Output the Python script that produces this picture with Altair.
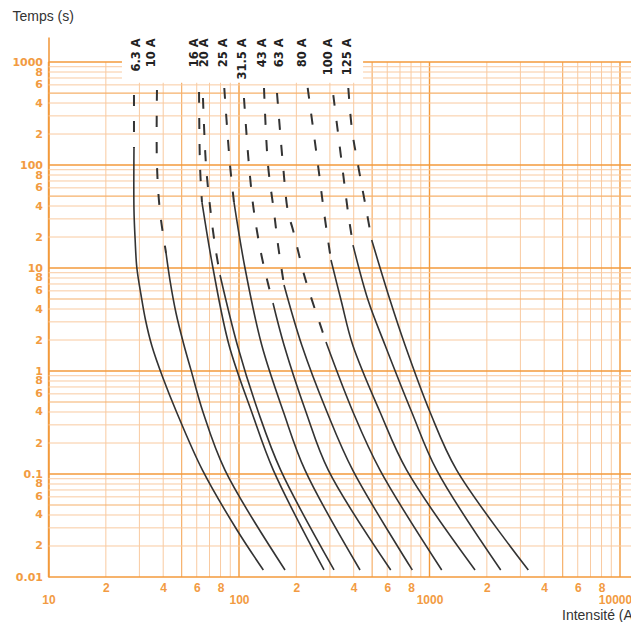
import altair as alt
import pandas as pd

# ---------------- data ----------------
FUSE_NAMES = ["6.3 A", "10 A", "16 A", "20 A", "25 A", "31.5 A",
              "43 A", "63 A", "80 A", "100 A", "125 A"]
LABEL_CURRENT = [29.1, 34.9, 58.8, 66.3, 83.4, 105, 133.6, 164.1, 216.8, 296.8, 373.4]
LABEL_TIME = 1700

F6_3_I = [28.1, 28.1, 28.1, 28.5, 29.1, 30.6, 32.3, 34.9, 39.9, 47.0, 64.3, 97.6, 134.2]
F6_3_T = [478, 146, 36.6, 18.7, 10, 5.47, 3.13, 1.75, 0.855, 0.40, 0.109, 0.0286, 0.0117]
F10_I = [37.1, 37.1, 38.5, 41.4, 43.4, 46.7, 51.4, 56.0, 64.7, 84.4, 174.4]
F10_T = [535, 100, 35.0, 14.0, 7.64, 3.66, 1.79, 1.02, 0.40, 0.109, 0.0117]
F16_I = [61.7, 62.4, 63.9, 73.0, 88.6, 116.6, 151.4, 279.4]
F16_T = [511, 100, 43.7, 10, 1.79, 0.40, 0.109, 0.0117]
F20_I = [64.7, 67.1, 71.0, 74.8, 79.5, 98.0, 126.3, 165.5, 315.3]
F20_T = [447, 100, 35, 16.7, 8.55, 1.79, 0.40, 0.109, 0.0117]
F25_I = [83.7, 89.7, 94.1, 107.5, 131.6, 171.2, 222.1, 431.8]
F25_T = [560, 100, 43.7, 10, 1.79, 0.40, 0.109, 0.0117]
F31_5_I = [106.2, 112.8, 119.9, 132.1, 150.8, 172.3, 224.7, 294.3, 625.7]
F31_5_T = [447, 100, 35, 12.5, 4.57, 1.79, 0.40, 0.109, 0.0117]
F43_I = [135.3, 142.0, 152.7, 160.3, 172.3, 213.4, 289.7, 395.3, 812.2]
F43_T = [560, 100, 35, 16.7, 6.84, 1.79, 0.40, 0.109, 0.0117]
F63_I = [158.3, 170.2, 180.8, 192.1, 222.1, 272.7, 286.2, 396.7, 549.8, 1159]
F63_T = [500, 100, 35, 23.4, 8.0, 2.50, 1.91, 0.40, 0.109, 0.0117]
F80_I = [229.4, 259.8, 279.4, 304.0, 343.1, 395.3, 549.8, 759, 1734]
F80_T = [560, 100, 35, 11.96, 4.89, 1.79, 0.40, 0.109, 0.0117]
F100_I = [312.6, 347.4, 373.4, 396.7, 475.6, 584.0, 806.3, 1091, 2365]
F100_T = [478, 100, 35, 16.7, 4.89, 1.79, 0.40, 0.109, 0.0117]
F125_I = [374.8, 392.0, 421.5, 468.1, 497.3, 620.5, 743.6, 1006, 1389, 3301]
F125_T = [560, 219, 100, 35, 18.7, 4.89, 1.79, 0.40, 0.109, 0.0117]

# index of the last point of the dashed (upper) part of each curve
DASHED_UNTIL = [1, 3, 2, 4, 2, 4, 4, 6, 3, 3, 4]

X_TICKS = [10, 20, 40, 60, 80, 100, 200, 400, 600, 800, 1000,
           2000, 4000, 6000, 8000, 10000]
Y_TICKS = [0.01, 0.02, 0.04, 0.06, 0.08, 0.1, 0.2, 0.4, 0.6, 0.8, 1, 2, 4, 6, 8,
           10, 20, 40, 60, 80, 100, 200, 400, 600, 800, 1000]
X_DECADES = [10, 100, 1000]
Y_DECADES = [0.01, 0.1, 1, 10, 100]
MANTISSAS = [1, 2, 3, 4, 5, 6, 7, 8, 9]

# ---------------- tables ----------------
CURVES = [(F6_3_I, F6_3_T), (F10_I, F10_T), (F16_I, F16_T), (F20_I, F20_T),
          (F25_I, F25_T), (F31_5_I, F31_5_T), (F43_I, F43_T), (F63_I, F63_T),
          (F80_I, F80_T), (F100_I, F100_T), (F125_I, F125_T)]
rows = []
for name, (ci, ct), k in zip(FUSE_NAMES, CURVES, DASHED_UNTIL):
    for j, (i, t) in enumerate(zip(ci, ct)):
        if j <= k:
            rows.append(dict(fuse=name, part="dash", n=j, I=i, t=t))
        if j >= k:
            rows.append(dict(fuse=name, part="solid", n=j, I=i, t=t))
curves = pd.DataFrame(rows)


def tier(m):
    return "major" if m == 1 else ("mid" if m == 5 else "minor")


vrows = [dict(I=m * d, lo=0.01, hi=1000, tier=tier(m)) for d in X_DECADES for m in MANTISSAS]
vrows.append(dict(I=10000, lo=0.01, hi=1000, tier="major"))
hrows = [dict(t=round(m * d, 4), x1=10, x2=11500, tier=tier(m)) for d in Y_DECADES for m in MANTISSAS]
hrows.append(dict(t=1000, x1=10, x2=11500, tier="major"))
vgrid = pd.DataFrame(vrows)
hgrid = pd.DataFrame(hrows)
labels = pd.DataFrame(dict(fuse=FUSE_NAMES, I=LABEL_CURRENT, t=[LABEL_TIME] * len(FUSE_NAMES)))
box = pd.DataFrame([dict(x1=24.3, x2=448, y1=630, y2=1750)])

# ---------------- styling ----------------
ORANGE = "#f29b42"
FONT = "DejaVu Sans"
xscale = alt.Scale(type="log", domain=[10, 10000], nice=False)
yscale = alt.Scale(type="log", domain=[0.01, 1750], nice=False)

is_dec = "abs(log(datum.value) / LN10 - round(log(datum.value) / LN10)) < 0.001"
digit = "format(datum.value / pow(10, floor(log(datum.value) / LN10 + 0.001)), '.0f')"

xaxis = alt.Axis(values=X_TICKS, format="~g", labelExpr=f"{is_dec} ? ['', datum.label] : {digit}",
                 grid=False, ticks=False, domain=False, labelOverlap=False, labelFlush=False,
                 labelBound=False, labelFont="Liberation Sans", labelFontWeight="bold",
                 labelFontSize=12, labelColor=ORANGE, labelPadding=5, labelLineHeight=12,
                 labelOffset={"condition": {"test": "datum.value > 9000", "value": -5}, "value": 0},
                 title="Intensité (A)", titleFont="Liberation Sans", titleFontSize=14,
                 titleFontWeight="normal", titleColor="#333333", titleAlign="left",
                 titleBaseline="middle", titleX=513, titleY=38, titleAngle=0)
yaxis = alt.Axis(values=Y_TICKS, format="~g", labelExpr=f"{is_dec} ? datum.label : {digit}",
                 grid=False, ticks=False, domain=True, domainColor=ORANGE, domainWidth=1.6,
                 labelOverlap=False, labelFlush=False, labelBound=False, labelFont=FONT,
                 labelFontWeight="bold", labelFontSize=11, labelColor=ORANGE, labelPadding=6,
                 title="Temps (s)", titleFont="Liberation Sans", titleFontSize=14,
                 titleFontWeight="normal", titleColor="#333333", titleAlign="left",
                 titleBaseline="middle", titleX=-36.5, titleY=-21, titleAngle=0)


def X(field):
    return alt.X(field, type="quantitative", scale=xscale, axis=xaxis)


def Y(field):
    return alt.Y(field, type="quantitative", scale=yscale, axis=yaxis)


tier_color = alt.Color("tier:N", scale=alt.Scale(domain=["minor", "mid", "major"],
                       range=["#f9caa0", "#f6b06a", "#f39a3b"]), legend=None)
tier_width = alt.StrokeWidth("tier:N", scale=alt.Scale(domain=["minor", "mid", "major"],
                             range=[1.0, 1.4, 1.8]), legend=None)

v_layer = alt.Chart(vgrid).mark_rule().encode(x=X("I"), y=Y("lo"), y2="hi",
                                               color=tier_color, strokeWidth=tier_width)
h_layer = alt.Chart(hgrid).mark_rule().encode(y=Y("t"), x=X("x1"), x2="x2",
                                               color=tier_color, strokeWidth=tier_width)
box_layer = alt.Chart(box).mark_rect(color="white").encode(x=X("x1"), x2="x2", y=Y("y1"), y2="y2")

dash_layer = alt.Chart(curves).transform_filter(alt.datum.part == "dash").mark_line(
    color="#333333", strokeWidth=2, strokeDash=[11, 15], interpolate="catmull-rom"
).encode(x=X("I"), y=Y("t"), detail="fuse:N", order="n:Q")
solid_layer = alt.Chart(curves).transform_filter(alt.datum.part == "solid").mark_line(
    color="#333333", strokeWidth=1.6, interpolate="catmull-rom"
).encode(x=X("I"), y=Y("t"), detail="fuse:N", order="n:Q")

label_layer = alt.Chart(labels).mark_text(
    angle=270, align="right", baseline="middle", font=FONT, fontWeight="bold",
    fontSize=11.5, color="#222222"
).encode(x=X("I"), y=Y("t"), text="fuse:N")

chart = alt.layer(v_layer, h_layer, box_layer, dash_layer, solid_layer, label_layer).properties(
    width=571.5, height=540,
    autosize=alt.AutoSizeParams(type="none"),
    padding={"left": 40.5, "top": 29, "right": 11, "bottom": 45},
).configure_view(stroke=None)

chart.save("out.html", embed_options={"renderer": "svg", "actions": False})
